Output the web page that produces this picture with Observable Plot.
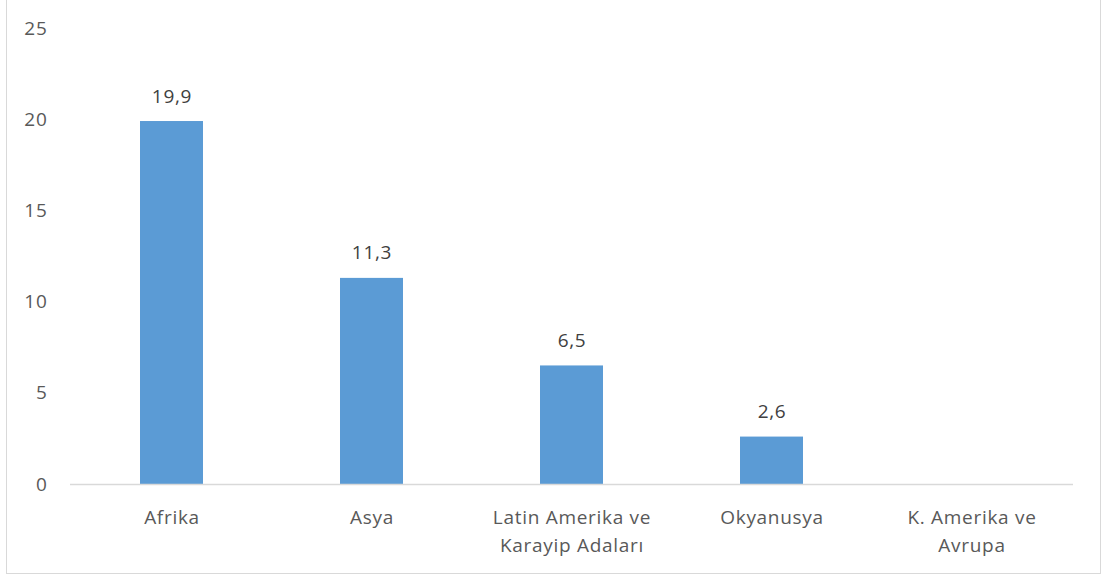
<!DOCTYPE html>
<html>
<head>
<meta charset="utf-8">
<script src="https://cdn.jsdelivr.net/npm/d3@7"></script>
<script src="https://cdn.jsdelivr.net/npm/@observablehq/plot@0.6"></script>
<style>
  body { margin: 0; background: #fff; }
  #wrap { position: relative; width: 1107px; height: 579px; }
  #border { position: absolute; left: 6px; top: -1px; width: 1095px; height: 575px; border: 1px solid #d9d9d9; box-sizing: border-box; pointer-events: none; }
  svg text { letter-spacing: 0.7px; }
</style>
</head>
<body>
<div id="wrap"><div id="border"></div></div>
<script>
const categories = ["Afrika", "Asya", "Latin Amerika ve\nKarayip Adaları", "Okyanusya", "K. Amerika ve\nAvrupa"];
const values = [19.9, 11.3, 6.5, 2.6, 0];
const yTicks = [0, 5, 10, 15, 20, 25];

const data = categories.map((c, i) => ({ category: c, value: values[i] }));
const fmt = v => d3.format(".1f")(v).replace(".", ",");

const chart = Plot.plot({
  width: 1107,
  height: 579,
  marginLeft: 70,
  marginRight: 34,
  marginTop: 28,
  marginBottom: 95,
  style: { fontFamily: "'Open Sans', sans-serif", fontSize: "19px", color: "#595959", background: "transparent" },
  x: { domain: categories, paddingInner: 0.686, paddingOuter: 0.343, label: null },
  y: { domain: [0, 25], ticks: yTicks, label: null },
  marks: [
    Plot.barY(data, { x: "category", y: "value", fill: "#5b9bd5" }),
    Plot.ruleY([0], { stroke: "#d9d9d9", strokeWidth: 1.5 }),
    Plot.text(data.filter(d => d.value > 0), { x: "category", y: "value", text: d => fmt(d.value), dy: -25, fill: "#404040", fontSize: 19 }),
    Plot.axisY({ ticks: yTicks, tickSize: 0, tickPadding: 23, fill: "#595959", fontSize: 19, label: null }),
    Plot.axisX({ tickSize: 0, tickPadding: 19, fill: "#595959", fontSize: 19, lineHeight: 1.5, label: null })
  ]
});
document.getElementById("wrap").appendChild(chart);
chart.style.position = "absolute";
chart.style.left = "0";
chart.style.top = "0";
</script>
</body>
</html>
